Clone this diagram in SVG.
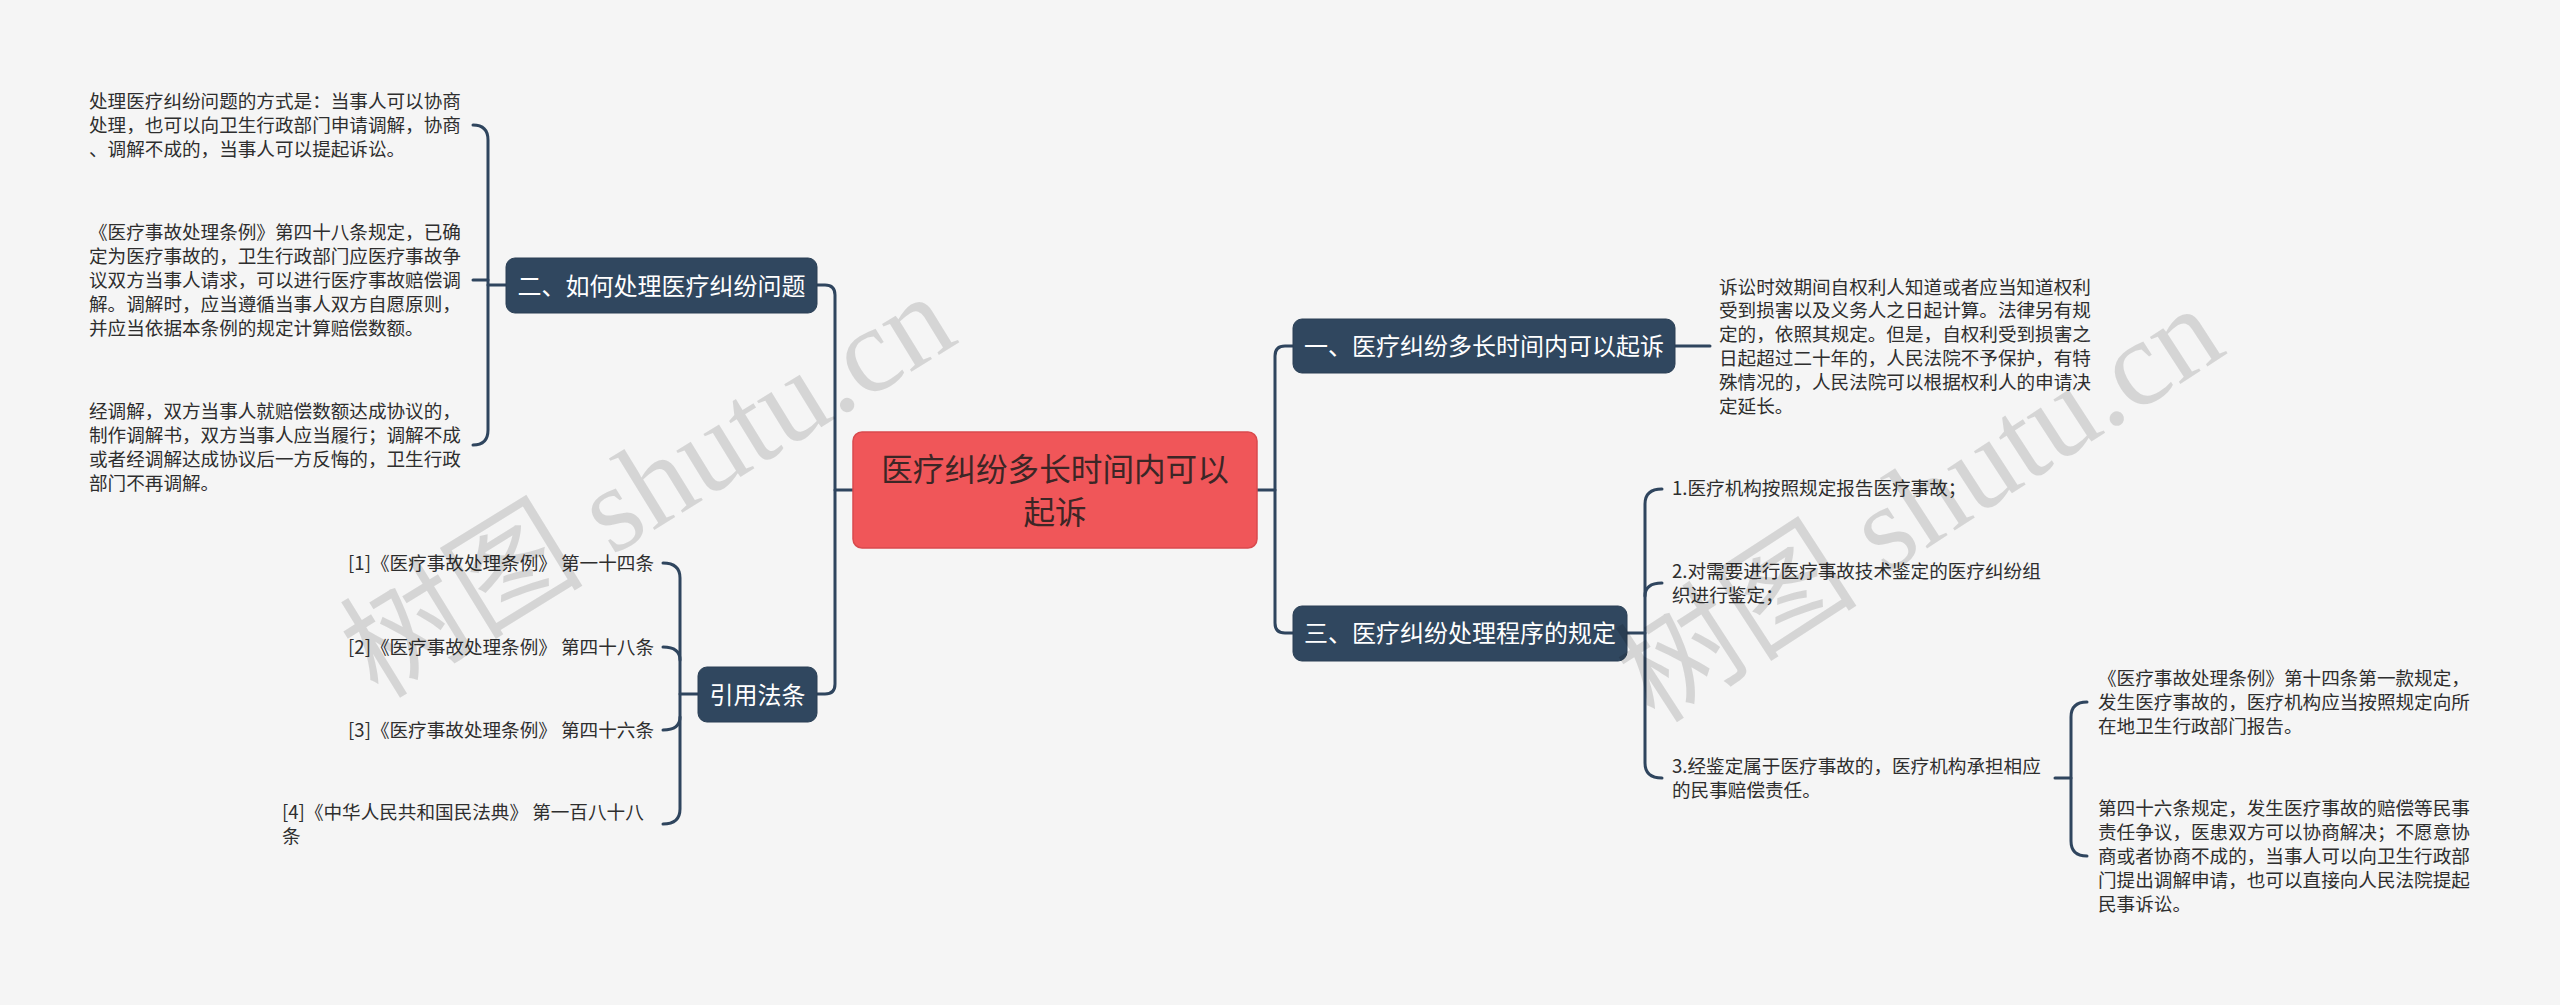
<svg xmlns="http://www.w3.org/2000/svg" width="2560" height="1005" viewBox="0 0 2560 1005">
<style>
.bg{fill:#f5f5f5}
.link{fill:none;stroke:#2f455e;stroke-width:3;stroke-linecap:round}
.branch rect{fill:#30475f;stroke:#2a3f55;stroke-width:1}
.branch text{fill:#ffffff;font-family:"Noto Sans CJK SC","Microsoft YaHei",sans-serif;font-size:24px;text-anchor:middle}
.root rect{fill:#f05659;stroke:#d94a4d;stroke-width:1.5}
.root text{fill:#3c2626;font-family:"Noto Sans CJK SC","Microsoft YaHei",sans-serif;font-size:31.6px;text-anchor:middle}
.leaf text{fill:#2e2e2e;font-family:"Noto Sans CJK SC","Microsoft YaHei",sans-serif;font-size:18.6px}
.wm{fill:#000000;fill-opacity:0.13;font-family:"Liberation Serif","Noto Sans CJK SC",serif;font-size:122px}
</style>
<rect class="bg" x="0" y="0" width="2560" height="1005"/>

<g id="connectors">
  <path class="link" d="M853,490 H835"/>
  <path class="link" d="M817,285 H825 Q835,285 835,295 V684 Q835,694 825,694 H817"/>
  <path class="link" d="M506,285 H488"/>
  <path class="link" d="M473,125 Q488,125 488,140 V430 Q488,445 473,445"/>
  <path class="link" d="M473,280 H488"/>
  <path class="link" d="M698,694 H680"/>
  <path class="link" d="M663,563 Q680,563 680,578 V809 Q680,824 663,824"/>
  <path class="link" d="M663,647 Q680,647 680,660"/>
  <path class="link" d="M663,730 Q680,730 680,717"/>
  <path class="link" d="M1257,490 H1275"/>
  <path class="link" d="M1293,346 H1285 Q1275,346 1275,356 V623 Q1275,633 1285,633 H1293"/>
  <path class="link" d="M1675,346 H1710"/>
  <path class="link" d="M1627,633 H1645"/>
  <path class="link" d="M1662,489 Q1645,489 1645,504 V763 Q1645,778 1662,778"/>
  <path class="link" d="M1662,583 Q1645,583 1645,596"/>
  <path class="link" d="M2055,778 H2071"/>
  <path class="link" d="M2087,702 Q2071,702 2071,717 V841 Q2071,856 2087,856"/>
</g>

<g id="root" class="root">
  <rect x="853" y="432" width="404" height="116" rx="9"/>
  <text x="1055" y="480.5">医疗纠纷多长时间内可以</text>
  <text x="1055" y="523.5">起诉</text>
</g>

<g id="node-b2" class="branch">
  <rect x="506" y="258" width="311" height="55" rx="9"/>
  <text x="661.5" y="294.5">二、如何处理医疗纠纷问题</text>
</g>
<g id="node-cite" class="branch">
  <rect x="698" y="667" width="119" height="55" rx="9"/>
  <text x="757.5" y="703.5">引用法条</text>
</g>
<g id="node-b1" class="branch">
  <rect x="1293" y="319" width="382" height="54" rx="9"/>
  <text x="1484" y="354.5">一、医疗纠纷多长时间内可以起诉</text>
</g>
<g id="node-b3" class="branch">
  <rect x="1293" y="606" width="334" height="55" rx="9"/>
  <text x="1460" y="642">三、医疗纠纷处理程序的规定</text>
</g>

<g id="leaf-l1" class="leaf">
  <text x="89" y="108">处理医疗纠纷问题的方式是：当事人可以协商</text>
  <text x="89" y="131.8">处理，也可以向卫生行政部门申请调解，协商</text>
  <text x="89" y="155.6">、调解不成的，当事人可以提起诉讼。</text>
</g>
<g id="leaf-l2" class="leaf">
  <text x="89" y="239.4">《医疗事故处理条例》第四十八条规定，已确</text>
  <text x="89" y="263.2">定为医疗事故的，卫生行政部门应医疗事故争</text>
  <text x="89" y="287">议双方当事人请求，可以进行医疗事故赔偿调</text>
  <text x="89" y="310.8">解。调解时，应当遵循当事人双方自愿原则，</text>
  <text x="89" y="334.6">并应当依据本条例的规定计算赔偿数额。</text>
</g>
<g id="leaf-l3" class="leaf">
  <text x="89" y="418.3">经调解，双方当事人就赔偿数额达成协议的，</text>
  <text x="89" y="442.1">制作调解书，双方当事人应当履行；调解不成</text>
  <text x="89" y="465.9">或者经调解达成协议后一方反悔的，卫生行政</text>
  <text x="89" y="489.7">部门不再调解。</text>
</g>

<g id="cite-1" class="leaf"><text x="654" y="570" text-anchor="end">[1]《医疗事故处理条例》 第一十四条</text></g>
<g id="cite-2" class="leaf"><text x="654" y="654" text-anchor="end">[2]《医疗事故处理条例》 第四十八条</text></g>
<g id="cite-3" class="leaf"><text x="654" y="737" text-anchor="end">[3]《医疗事故处理条例》 第四十六条</text></g>
<g id="cite-4" class="leaf">
  <text x="282" y="819">[4]《中华人民共和国民法典》 第一百八十八</text>
  <text x="282" y="843">条</text>
</g>

<g id="leaf-r1" class="leaf">
  <text x="1719" y="293.5">诉讼时效期间自权利人知道或者应当知道权利</text>
  <text x="1719" y="317.3">受到损害以及义务人之日起计算。法律另有规</text>
  <text x="1719" y="341.1">定的，依照其规定。但是，自权利受到损害之</text>
  <text x="1719" y="364.9">日起超过二十年的，人民法院不予保护，有特</text>
  <text x="1719" y="388.7">殊情况的，人民法院可以根据权利人的申请决</text>
  <text x="1719" y="412.5">定延长。</text>
</g>

<g id="leaf-s1" class="leaf">
  <text x="1672" y="495">1.医疗机构按照规定报告医疗事故；</text>
</g>
<g id="leaf-s2" class="leaf">
  <text x="1672" y="578.1">2.对需要进行医疗事故技术鉴定的医疗纠纷组</text>
  <text x="1672" y="601.9">织进行鉴定；</text>
</g>
<g id="leaf-s3" class="leaf">
  <text x="1672" y="773.1">3.经鉴定属于医疗事故的，医疗机构承担相应</text>
  <text x="1672" y="796.9">的民事赔偿责任。</text>
</g>

<g id="leaf-a" class="leaf">
  <text x="2098" y="685.2">《医疗事故处理条例》第十四条第一款规定，</text>
  <text x="2098" y="709">发生医疗事故的，医疗机构应当按照规定向所</text>
  <text x="2098" y="732.8">在地卫生行政部门报告。</text>
</g>
<g id="leaf-b" class="leaf">
  <text x="2098" y="815.4">第四十六条规定，发生医疗事故的赔偿等民事</text>
  <text x="2098" y="839.2">责任争议，医患双方可以协商解决；不愿意协</text>
  <text x="2098" y="863">商或者协商不成的，当事人可以向卫生行政部</text>
  <text x="2098" y="886.8">门提出调解申请，也可以直接向人民法院提起</text>
  <text x="2098" y="910.6">民事诉讼。</text>
</g>

<g id="watermarks">
  <text class="wm" transform="translate(378,700) rotate(-31.6)">树图 shutu.cn</text>
  <text class="wm" transform="translate(1655,725) rotate(-33)">树图 shutu.cn</text>
</g>
</svg>
